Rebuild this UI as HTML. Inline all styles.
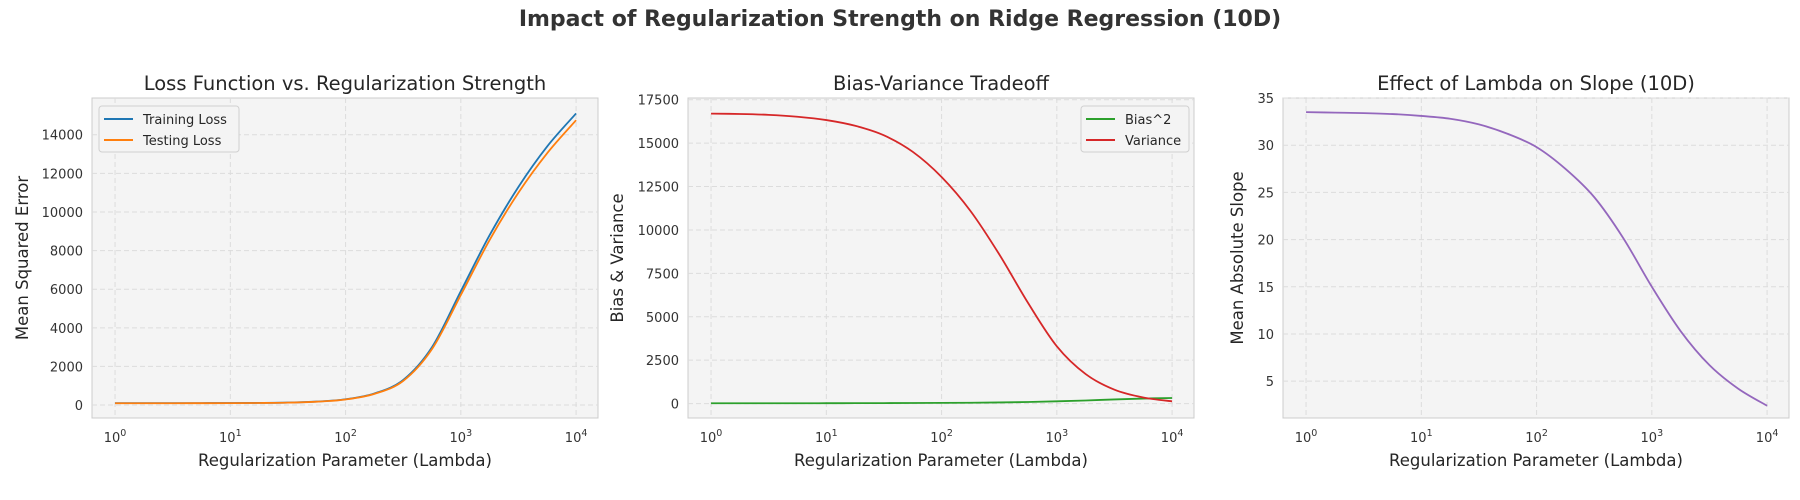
<!DOCTYPE html>
<html><head><meta charset="utf-8">
<style>
body{margin:0;background:#fff;}
svg{display:block;font-family:"DejaVu Sans","Liberation Sans",sans-serif;}
</style></head>
<body>
<svg id="chart" width="1800" height="500" xmlns="http://www.w3.org/2000/svg">
<text x="900" y="26" text-anchor="middle" font-size="22" font-weight="bold" fill="#333">Impact of Regularization Strength on Ridge Regression (10D)</text>
</svg>
<script>
const lambdaExps = [0,0.25,0.5,0.75,1,1.25,1.5,1.75,2,2.25,2.5,2.75,3,3.25,3.5,3.75,4];
const trainLoss = [100,100,100,102,105,112,130,180,300,600,1300,3000,5900,8800,11300,13400,15100];
const testLoss  = [95,95,95,97,100,107,125,175,290,580,1250,2900,5700,8550,11000,13050,14750];
const bias2 = [20,20,20,20,22,25,28,33,40,50,65,90,130,180,240,290,320];
const variance = [16700,16680,16630,16520,16330,16000,15450,14500,13050,11100,8600,5800,3300,1700,800,350,130];
const slope = [33.5,33.45,33.4,33.3,33.1,32.8,32.2,31.2,29.8,27.5,24.5,20.2,15,10.3,6.7,4.2,2.4];
const xTickExps = [0,1,2,3,4];
const yTicks1 = [0,2000,4000,6000,8000,10000,12000,14000];
const yTicks2 = [0,2500,5000,7500,10000,12500,15000,17500];
const yTicks3 = [5,10,15,20,25,30,35];

const NS="http://www.w3.org/2000/svg";
const svg=document.getElementById('chart');
function mk(tag,attrs,parent){const e=document.createElementNS(NS,tag);for(const k in attrs)e.setAttribute(k,attrs[k]);(parent||svg).appendChild(e);return e;}

function panel(cfg){
  const L=cfg.left,T=98,W=506,H=320;
  const g=mk('g',{});
  
  
  const xmin=-0.2,xmax=4.19;
  const xs=v=>L+(v-xmin)/(xmax-xmin)*W;
  const ys=v=>T+H-(v-cfg.ymin)/(cfg.ymax-cfg.ymin)*H;
  const bg=mk('rect',{x:L,y:T,width:W,height:H,fill:'#f4f4f4',stroke:'#cccccc','stroke-width':1},g);
  
  
  xTickExps.forEach(e=>{
    const x=xs(e);
    const gl=mk('line',{x1:x,x2:x,y1:T,y2:T+H,stroke:'#dcdcdc','stroke-dasharray':'5,3'},g);
    
    
    const t=mk('text',{x:x,y:442,'text-anchor':'middle','font-size':13,fill:'#333'},g);
    
    
    t.textContent='10';
    const s=mk('tspan',{dy:-6,'font-size':9.5},t);
    s.textContent=String(e);
  });
  cfg.yTicks.forEach(v=>{
    const y=ys(v);
    const gl=mk('line',{x1:L,x2:L+W,y1:y,y2:y,stroke:'#dcdcdc','stroke-dasharray':'5,3'},g);
    
    
    const t=mk('text',{x:L-9,y:y+5,'text-anchor':'end','font-size':13,fill:'#333'},g);
    
    
    t.textContent=String(v);
  });
  cfg.series.forEach(s=>{
    const pts=lambdaExps.map((e,i)=>[xs(e),ys(s.data[i])]);
    let d='M'+pts[0][0]+','+pts[0][1];
    for(let i=0;i<pts.length-1;i++){
      const p0=pts[Math.max(0,i-1)],p1=pts[i],p2=pts[i+1],p3=pts[Math.min(pts.length-1,i+2)];
      const c1=[p1[0]+(p2[0]-p0[0])/6,p1[1]+(p2[1]-p0[1])/6];
      const c2=[p2[0]-(p3[0]-p1[0])/6,p2[1]-(p3[1]-p1[1])/6];
      d+=' C'+c1[0]+','+c1[1]+' '+c2[0]+','+c2[1]+' '+p2[0]+','+p2[1];
    }
    const p=mk('path',{d:d,fill:'none',stroke:s.color,'stroke-width':1.8},g);
    
    
  });
  const tt=mk('text',{x:L+W/2,y:90,'text-anchor':'middle','font-size':19.5,fill:'#262626'},g);
  
  
  tt.textContent=cfg.title;
  const xl=mk('text',{x:L+W/2,y:466,'text-anchor':'middle','font-size':16.5,fill:'#262626'},g);
  
  
  xl.textContent='Regularization Parameter (Lambda)';
  const yl=mk('text',{x:0,y:0,'text-anchor':'middle','font-size':16.5,fill:'#262626',transform:'translate('+cfg.ylabX+','+(T+H/2)+') rotate(-90)'},g);
  
  
  yl.textContent=cfg.ylabel;
  if(cfg.legend){
    const lx=cfg.legend==='left'?L+7:L+W-113, lw=cfg.legend==='left'?140:108;
    const lg=mk('g',{},g);
    
    
    mk('rect',{x:lx,y:T+8,width:lw,height:46,rx:3,fill:'#f4f4f4',stroke:'#d0d0d0'},lg);
    cfg.series.forEach((s,i)=>{
      const y=T+21+i*21;
      const le=mk('g',{},lg);
      
      
      mk('line',{x1:lx+5,x2:lx+34,y1:y,y2:y,stroke:s.color,'stroke-width':2},le);
      const t=mk('text',{x:lx+44,y:y+5,'font-size':13,fill:'#262626'},le);
      t.textContent=s.label;
    });
  }
}
panel({name:'loss-panel',left:92,ymin:-670,ymax:15900,yTicks:yTicks1,title:'Loss Function vs. Regularization Strength',ylabel:'Mean Squared Error',ylabX:28,legend:'left',
  series:[{name:'training-loss',label:'Training Loss',color:'#1f77b4',data:trainLoss},{name:'testing-loss',label:'Testing Loss',color:'#ff7f0e',data:testLoss}]});
panel({name:'bias-variance-panel',left:688,ymin:-830,ymax:17600,yTicks:yTicks2,title:'Bias-Variance Tradeoff',ylabel:'Bias & Variance',ylabX:623,legend:'right',
  series:[{name:'bias-squared',label:'Bias^2',color:'#2ca02c',data:bias2},{name:'variance',label:'Variance',color:'#d62728',data:variance}]});
panel({name:'slope-panel',left:1283,ymin:1.1,ymax:35.0,yTicks:yTicks3,title:'Effect of Lambda on Slope (10D)',ylabel:'Mean Absolute Slope',ylabX:1243,legend:null,
  series:[{name:'mean-abs-slope',label:'Slope',color:'#9467bd',data:slope}]});
</script>
</body></html>
